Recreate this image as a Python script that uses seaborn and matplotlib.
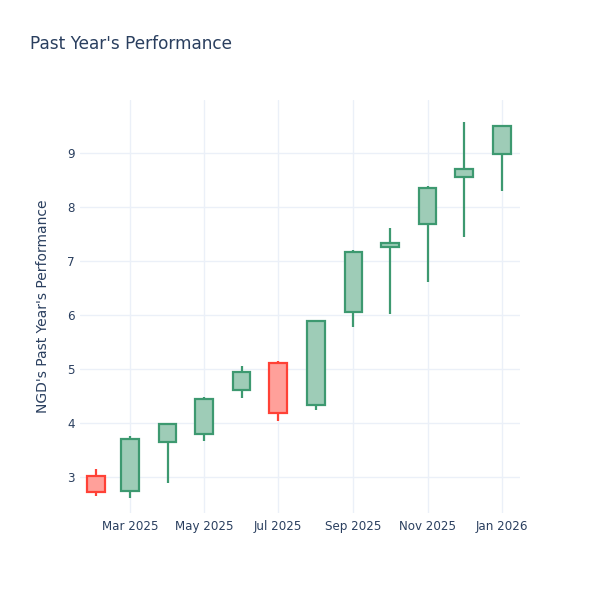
import matplotlib
matplotlib.use("Agg")
import matplotlib.pyplot as plt
import matplotlib.dates as mdates
import seaborn as sns
import pandas as pd
import numpy as np

dates = ["2025-02-01", "2025-03-01", "2025-04-01", "2025-05-01", "2025-06-01", "2025-07-01",
         "2025-08-01", "2025-09-01", "2025-10-01", "2025-11-01", "2025-12-01", "2026-01-01"]
open_ = [3.02, 2.74, 3.64, 3.80, 4.60, 5.11, 4.33, 6.05, 7.26, 7.69, 8.56, 8.98]
high = [3.14, 3.76, 3.99, 4.48, 5.06, 5.15, 5.90, 7.20, 7.61, 8.38, 9.58, 9.50]
low = [2.64, 2.61, 2.89, 3.67, 4.46, 4.03, 4.23, 5.78, 6.02, 6.60, 7.45, 8.30]
close = [2.72, 3.70, 3.98, 4.45, 4.94, 4.19, 5.89, 7.17, 7.34, 8.35, 8.71, 9.49]
tick_dates = ["2025-03-01", "2025-05-01", "2025-07-01", "2025-09-01", "2025-11-01", "2026-01-01"]
yticks = [3, 4, 5, 6, 7, 8, 9]

df = pd.DataFrame({"date": pd.to_datetime(dates), "open": open_, "high": high,
                   "low": low, "close": close})

sns.set_theme(style="white")
plt.rcParams['font.family'] = ['DejaVu Sans']
txt = "#2a3f5f"

fig = plt.figure(figsize=(6, 6), dpi=100)
ax = fig.add_axes([80/600, 87/600, 440/600, 413/600])

inc_line, inc_fill = "#3D9970", "#9ECCB7"
dec_line, dec_fill = "#FF4136", "#FFA09A"
width = 14.5

for _, r in df.iterrows():
    up = r["close"] >= r["open"]
    lc = inc_line if up else dec_line
    fc = inc_fill if up else dec_fill
    x = mdates.date2num(r["date"])
    lo_b, hi_b = min(r["open"], r["close"]), max(r["open"], r["close"])
    ax.vlines(x, r["low"], lo_b, color=lc, lw=1.6, zorder=2)
    ax.vlines(x, hi_b, r["high"], color=lc, lw=1.6, zorder=2)
    ax.bar(x, hi_b - lo_b, bottom=lo_b, width=width, color=fc, edgecolor=lc,
           linewidth=1.6, zorder=3)

ax.set_xlim(mdates.date2num(pd.Timestamp("2025-01-19")), mdates.date2num(pd.Timestamp("2026-01-16")))
ax.set_ylim(2.33, 9.98)
ax.set_yticks(yticks)
ax.set_xticks([mdates.date2num(pd.Timestamp(d)) for d in tick_dates])
ax.xaxis.set_major_formatter(mdates.DateFormatter("%b %Y"))
ax.grid(True, color="#EBF0F8", lw=1, zorder=0)
ax.set_axisbelow(True)
for s in ax.spines.values():
    s.set_visible(False)
ax.tick_params(axis="both", length=0, labelsize=8.6, labelcolor=txt)
ax.tick_params(axis="y", pad=4)
ax.tick_params(axis="x", pad=5)
ax.set_ylabel("NGD's Past Year's Performance", fontsize=10, color=txt, labelpad=12)
fig.text(30/600, 1 - 44/600, "Past Year's Performance", fontsize=12.2, color=txt,
         va="center", ha="left")

fig.savefig("out.png", dpi=100, facecolor="white")
